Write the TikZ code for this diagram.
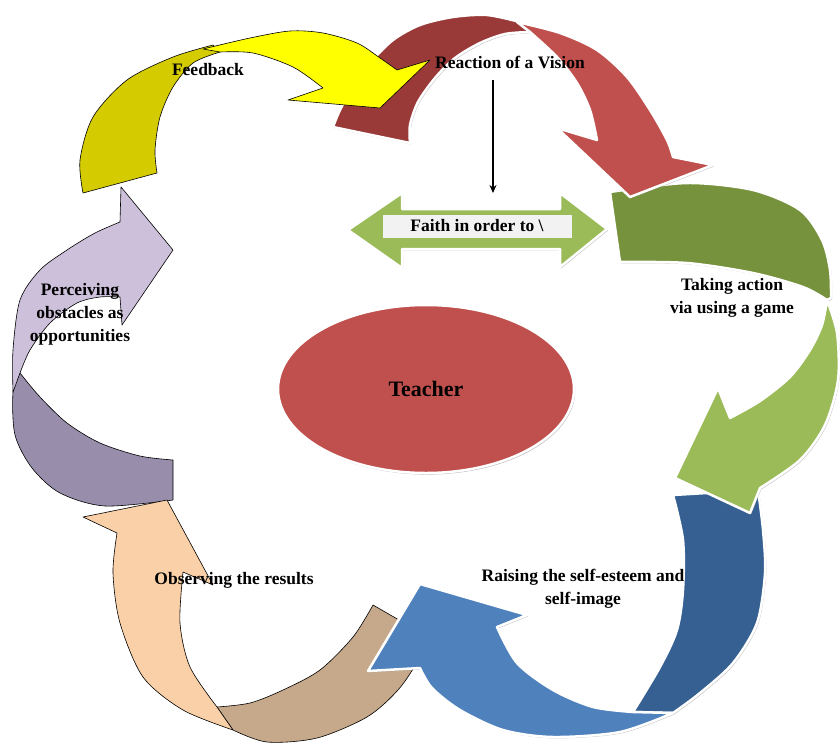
\documentclass[tikz,border=0pt]{standalone}
\usepackage{fontspec}
\setmainfont{Liberation Serif}
\usepackage{tikz}
\definecolor{mustard}{RGB}{212,204,0}
\definecolor{lemon}{RGB}{255,255,0}
\definecolor{maroon}{RGB}{153,58,56}
\definecolor{brick}{RGB}{192,80,77}
\definecolor{moss}{RGB}{118,146,60}
\definecolor{leaf}{RGB}{155,187,89}
\definecolor{navy}{RGB}{54,96,146}
\definecolor{sky}{RGB}{79,129,189}
\definecolor{tan}{RGB}{198,168,138}
\definecolor{peach}{RGB}{250,208,168}
\definecolor{mauve}{RGB}{152,142,172}
\definecolor{lilac}{RGB}{204,192,218}
\usetikzlibrary{shapes.geometric, arrows.meta, shadows}
\tikzstyle{ribbon} = [draw=white, line width=2.5pt, line join=round, drop shadow={shadow xshift=1.2pt, shadow yshift=-1.4pt, fill=black!45, opacity=0.55}]
\tikzstyle{outlined} = [draw=black, line width=0.6pt, line join=round]
\tikzstyle{textlabel} = [font=\fontsize{17.5}{23}\selectfont\bfseries, align=center, text=black]
\tikzstyle{teacher} = [ellipse, minimum width=296pt, minimum height=168pt, fill=brick, draw=white, line width=2.5pt, drop shadow={shadow xshift=1.2pt, shadow yshift=-1.6pt, fill=black!45, opacity=0.55}, font=\fontsize{22}{26}\selectfont\bfseries]
\tikzstyle{arrow} = [line width=1.5pt, -{Stealth[length=8pt, width=7pt]}]

\begin{document}
\begin{tikzpicture}[x=1pt, y=-1pt]
        \useasboundingbox (0,0) rectangle (840,742);

        % perceiving obstacles (purple)
        \filldraw [outlined, fill=mauve] plot[smooth] coordinates {(20,373) (13,392) (15,435) (32,468) (60,493) (105,506) (173,500)} -- plot[smooth] coordinates {(173,460) (140,456) (100,443) (67,423) (40,397) (20,373)} -- cycle;
        \filldraw [outlined, fill=lilac] plot[smooth] coordinates {(13,392) (13,350) (20,300) (40,270) (67,250) (95,233) (120,222)} -- (121,187) -- (173,250) -- (122,325) -- (120,297) -- plot[smooth] coordinates {(120,297) (100,297) (77,303) (50,323) (30,350) (20,373)} -- cycle;

        % observing the results (brown / peach)
        \filldraw [outlined, fill=tan] plot[smooth] coordinates {(373,605) (353,637) (320,670) (283,690) (250,703) (217,707)} -- plot[smooth] coordinates {(233,730) (267,742) (317,738) (367,717) (398,690) (418,660) (425,635)} -- cycle;
        \filldraw [outlined, fill=peach] plot[smooth] coordinates {(233,730) (183,710) (143,677) (120,623) (113,573) (117,533)} -- (83,517) -- (167,500) -- (213,585) -- (183,572) -- plot[smooth] coordinates {(183,572) (180,623) (190,667) (217,707)} -- cycle;

        % self-esteem (blue)
        \filldraw [ribbon, fill=navy] (673,495) -- plot[smooth] coordinates {(758,490) (763,530) (765,573) (757,623) (733,663) (700,693) (673,713)} -- plot[smooth] coordinates {(633,712) (660,667) (677,630) (683,590) (683,540) (673,495)} -- cycle;
        \filldraw [ribbon, fill=sky] plot[smooth] coordinates {(673,713) (620,732) (553,737) (503,730) (460,710) (432,688) (420,668)} -- (368,671) -- (420,584) -- (527,615) -- (497,627) -- plot[smooth] coordinates {(497,627) (517,663) (553,690) (593,707) (633,712)} -- cycle;

        % taking action (green)
        \filldraw [ribbon, fill=moss] (610,192) -- (620,262) -- plot[smooth] coordinates {(620,262) (687,263) (753,273) (803,287) (827,300)} -- plot[smooth] coordinates {(831,298) (830,270) (822,240) (800,210) (753,190) (687,183) (610,192)} -- cycle;
        \filldraw [ribbon, fill=leaf] plot[smooth] coordinates {(827,300) (837,333) (838,380) (825,425) (800,460) (760,488)} -- (750,513) -- (675,478) -- (718,388) -- (730,418) -- plot[smooth] coordinates {(730,418) (760,401) (790,377) (810,350) (822,325) (827,300)} -- cycle;

        % vision (red)
        \filldraw [ribbon, fill=maroon] plot[smooth] coordinates {(333,127) (340,110) (353,87) (370,63) (393,40) (420,25) (453,17) (487,15) (520,22)} -- (530,32) -- plot[smooth] coordinates {(530,32) (505,34) (480,43) (455,58) (435,78) (418,102) (410,125) (410,143)} -- cycle;
        \filldraw [ribbon, fill=brick] plot[smooth] coordinates {(517,22) (560,33) (597,50) (627,77) (650,110) (667,140) (673,157)} -- (713,165) -- (630,197) -- (557,128) -- (597,140) -- plot[smooth] coordinates {(597,140) (590,110) (577,83) (557,57) (530,32)} -- cycle;

        % feedback (yellow)
        \filldraw [outlined, fill=mustard] plot[smooth] coordinates {(83,193) (80,160) (93,117) (127,80) (173,57) (213,45)} -- (220,52) -- plot[smooth] coordinates {(220,52) (193,63) (173,87) (160,117) (155,150) (157,173)} -- cycle;
        \filldraw [outlined, fill=lemon] plot[smooth] coordinates {(203,49) (250,38) (290,31) (323,33) (357,43) (380,58) (397,70)} -- (430,60) -- (380,108) -- (288,100) -- (323,88) -- plot[smooth] coordinates {(323,88) (293,67) (253,53) (220,52)} -- cycle;

        % faith (double arrow)
        \filldraw [ribbon, fill=leaf] (348,230) -- (402,193) -- (402,209) -- (560,209) -- (560,193) -- (607,229) -- (560,267) -- (560,249) -- (402,249) -- (402,268) -- cycle;

        \node (node0) [textlabel] at (208,70) {Feedback};
        \node (node1) [textlabel] at (510,62) {Reaction of a Vision};
        \node (node2) [textlabel, fill=white!95!black, minimum width=189pt, minimum height=23pt, inner sep=0pt] at (477,226) {Faith in order to \textbackslash};
        \node (node3) [teacher] at (426,389) {Teacher};
        \node (node4) [textlabel] at (732,298) {Taking action\\via using a game};
        \node (node5) [textlabel] at (583,589) {Raising the self-esteem and\\self-image};
        \node (node6) [textlabel] at (234,580) {Observing the results};
        \node (node7) [textlabel] at (80,314) {Perceiving\\obstacles as\\opportunities};

        \coordinate (faithtop) at (493,193);
        \draw [arrow, shorten <=8pt] (node1.south -| faithtop) -- (faithtop);
    \end{tikzpicture}
\end{document}
